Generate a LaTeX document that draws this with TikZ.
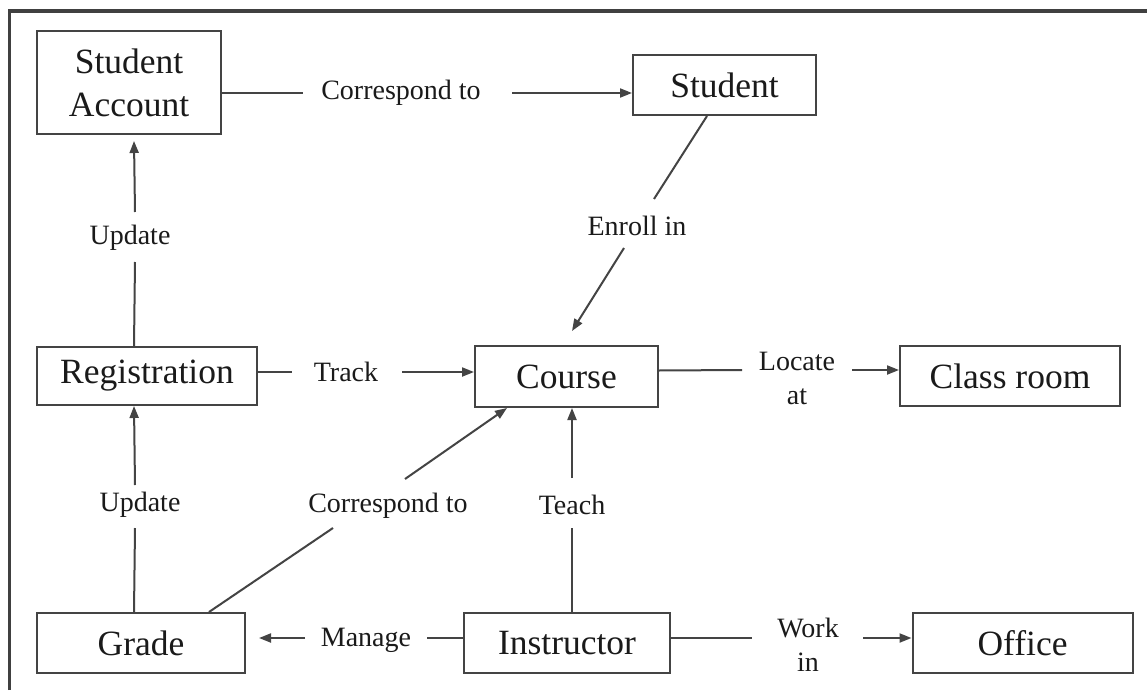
\documentclass[tikz,border=0pt]{standalone}
\usepackage{fontspec}
\setmainfont{Liberation Serif}
\usetikzlibrary{arrows.meta,calc}
\definecolor{ink}{HTML}{1A1A1A}
\definecolor{edge}{HTML}{444444}
\definecolor{rim}{HTML}{404040}
\begin{document}
\begin{tikzpicture}[x=1pt,y=-1pt,
  entity/.style={draw=edge, line width=2pt, text=ink,
    font=\fontsize{35.5}{43}\selectfont, align=center, inner sep=0pt},
  rel/.style={text=ink, font=\fontsize{28}{34}\selectfont, align=center, inner sep=0pt},
  link/.style={draw=edge, line width=2pt},
  flow/.style={link, -{Triangle[length=12pt,width=9pt]}}]
\useasboundingbox (0,0) rectangle (1147,690);
\fill[white] (0,0) rectangle (1147,690);
% outer frame
\draw[rim, line width=3.5pt] (9.5,690) -- (9.5,11) -- (1147,11);

% entities
\node[entity, minimum width=184pt, minimum height=103pt] (sa)  at (129,82.5)   {Student\\Account};
\node[entity, minimum width=183pt, minimum height=60pt]  (st)  at (724.5,85)   {Student};
\node[entity, minimum width=220pt, minimum height=58pt]  (reg) at (147,376)    {Registration};
\node[entity, minimum width=183pt, minimum height=61pt]  (co)  at (566.5,376.5){Course};
\node[entity, minimum width=220pt, minimum height=60pt]  (cr)  at (1010,376)   {Class room};
\node[entity, minimum width=208pt, minimum height=60pt]  (gr)  at (141,643)    {Grade};
\node[entity, minimum width=206pt, minimum height=60pt]  (ins) at (567,643)    {Instructor};
\node[entity, minimum width=220pt, minimum height=60pt]  (of)  at (1022.5,643) {Office};

% relationship labels
\node[rel] (l1)  at (401,93)  {Correspond to};
\node[rel] (l2)  at (637,226) {Enroll in};
\node[rel] (l3)  at (130,238) {Update};
\node[rel] (l4)  at (346,372) {Track};
\node[rel] (l5)  at (797,378) {Locate\\at};
\node[rel] (l6)  at (140,505) {Update};
\node[rel] (l7)  at (388,506) {Correspond to};
\node[rel] (l8)  at (572,505) {Teach};
\node[rel] (l9)  at (366,640) {Manage};
\node[rel] (l10) at (808,645) {Work\\in};

% Student Account -> Student
\draw[link] (sa.east |- l1) -- ($(l1)+(-98,0)$);
\draw[flow] ($(l1)+(111,0)$) -- (st.west |- l1);
% Student -> Course
\draw[link] ($(st.south east)+(-110,0)$) -- ($(l2)+(17,-27)$);
\draw[flow] ($(l2)+(-13,22)$) -- ($(co.north west)+(98,-14)$);
% Registration -> Student Account
\draw[link] ($(reg.north west)+(98,0)$) -- ($(l3)+(5,24)$);
\draw[flow] ($(l3)+(5,-26)$) -- ($(sa.south west)+(98,6)$);
% Registration -> Course
\draw[link] (reg.east |- l4) -- ($(l4)+(-54,0)$);
\draw[flow] ($(l4)+(56,0)$) -- (co.west |- l4);
% Course -> Class room
\draw[link] ($(co.east)+(0,-6)$) -- ($(l5)+(-55,-8)$);
\draw[flow] ($(l5)+(55,-8)$) -- ($(cr.west)+(0,-6)$);
% Grade -> Registration
\draw[link] ($(gr.north west)+(98,0)$) -- ($(l6)+(-5,23)$);
\draw[flow] ($(l6)+(-5,-20)$) -- ($(reg.south west)+(98,0)$);
% Grade -> Course
\draw[link] ($(gr.north east)+(-37,0)$) -- ($(l7)+(-55,22)$);
\draw[flow] ($(l7)+(17,-27)$) -- ($(co.south west)+(33,0)$);
% Instructor -> Course
\draw[link] (ins.north -| l8) -- ($(l8)+(0,23)$);
\draw[flow] ($(l8)+(0,-27)$) -- (co.south -| l8);
% Instructor -> Grade
\draw[link] ($(ins.west)+(0,-5)$) -- ($(l9)+(61,-2)$);
\draw[flow] ($(l9)+(-61,-2)$) -- ($(gr.east)+(13,-5)$);
% Instructor -> Office
\draw[link] ($(ins.east)+(0,-5)$) -- ($(l10)+(-56,-7)$);
\draw[flow] ($(l10)+(55,-7)$) -- ($(of.west)+(0,-5)$);
\end{tikzpicture}
\end{document}
